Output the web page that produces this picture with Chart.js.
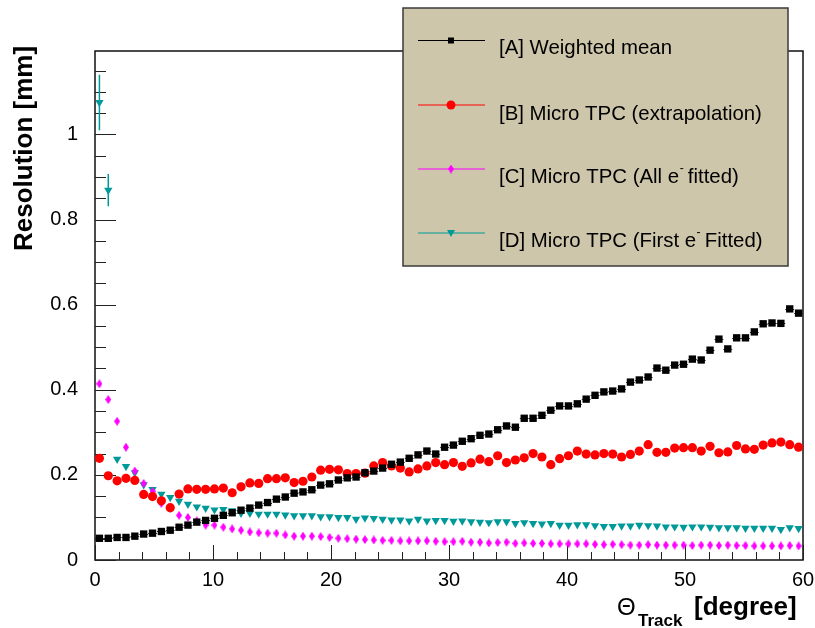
<!DOCTYPE html>
<html>
<head>
<meta charset="utf-8">
<script src="https://cdn.jsdelivr.net/npm/chart.js@4.4.1/dist/chart.umd.min.js"></script>
<style>
  html, body { margin: 0; padding: 0; background: #fff; }
</style>
</head>
<body>
<canvas id="c" width="815" height="628"></canvas>
<script>
// bin centres (deg), 80 bins of 0.75 deg
var thetaBins = [0.375, 1.125, 1.875, 2.625, 3.375, 4.125, 4.875, 5.625, 6.375, 7.125,
  7.875, 8.625, 9.375, 10.125, 10.875, 11.625, 12.375, 13.125, 13.875, 14.625,
  15.375, 16.125, 16.875, 17.625, 18.375, 19.125, 19.875, 20.625, 21.375, 22.125,
  22.875, 23.625, 24.375, 25.125, 25.875, 26.625, 27.375, 28.125, 28.875, 29.625,
  30.375, 31.125, 31.875, 32.625, 33.375, 34.125, 34.875, 35.625, 36.375, 37.125,
  37.875, 38.625, 39.375, 40.125, 40.875, 41.625, 42.375, 43.125, 43.875, 44.625,
  45.375, 46.125, 46.875, 47.625, 48.375, 49.125, 49.875, 50.625, 51.375, 52.125,
  52.875, 53.625, 54.375, 55.125, 55.875, 56.625, 57.375, 58.125, 58.875, 59.625];
var binHalfWidth = 0.375;

var weightedMean = [0.051, 0.051, 0.053, 0.053, 0.056, 0.061, 0.063, 0.067, 0.070, 0.077,
  0.082, 0.089, 0.093, 0.098, 0.105, 0.111, 0.117, 0.122, 0.129, 0.135,
  0.143, 0.148, 0.157, 0.160, 0.165, 0.176, 0.179, 0.188, 0.193, 0.195,
  0.205, 0.209, 0.216, 0.225, 0.230, 0.239, 0.247, 0.256, 0.249, 0.265,
  0.270, 0.279, 0.285, 0.293, 0.296, 0.306, 0.315, 0.312, 0.333, 0.333,
  0.340, 0.352, 0.362, 0.362, 0.367, 0.378, 0.387, 0.395, 0.397, 0.402,
  0.418, 0.423, 0.430, 0.451, 0.446, 0.458, 0.460, 0.472, 0.470, 0.493,
  0.519, 0.496, 0.522, 0.522, 0.536, 0.555, 0.557, 0.556, 0.590, 0.580];

var tpcExtrap = [0.239, 0.198, 0.186, 0.192, 0.187, 0.154, 0.149, 0.139, 0.123, 0.155,
  0.167, 0.166, 0.166, 0.167, 0.169, 0.158, 0.172, 0.181, 0.180, 0.191,
  0.191, 0.193, 0.182, 0.185, 0.195, 0.211, 0.213, 0.212, 0.203, 0.203,
  0.204, 0.221, 0.229, 0.221, 0.216, 0.207, 0.214, 0.221, 0.229, 0.224,
  0.229, 0.220, 0.228, 0.237, 0.231, 0.245, 0.229, 0.235, 0.240, 0.250,
  0.242, 0.224, 0.238, 0.245, 0.256, 0.249, 0.247, 0.250, 0.249, 0.242,
  0.248, 0.256, 0.271, 0.253, 0.253, 0.263, 0.264, 0.264, 0.256, 0.267,
  0.252, 0.254, 0.269, 0.261, 0.260, 0.270, 0.275, 0.277, 0.271, 0.265];

var tpcAllFit = [0.414, 0.377, 0.326, 0.265, 0.209, 0.180, 0.161, 0.133, 0.122, 0.105,
  0.100, 0.092, 0.082, 0.082, 0.077, 0.073, 0.070, 0.066, 0.064, 0.063,
  0.063, 0.059, 0.056, 0.056, 0.056, 0.055, 0.053, 0.051, 0.050, 0.049,
  0.048, 0.047, 0.046, 0.046, 0.045, 0.045, 0.045, 0.045, 0.044, 0.043,
  0.043, 0.044, 0.042, 0.042, 0.040, 0.041, 0.042, 0.039, 0.040, 0.039,
  0.039, 0.038, 0.038, 0.038, 0.038, 0.038, 0.037, 0.036, 0.037, 0.036,
  0.035, 0.035, 0.036, 0.035, 0.035, 0.035, 0.035, 0.034, 0.035, 0.035,
  0.034, 0.035, 0.034, 0.034, 0.033, 0.033, 0.033, 0.033, 0.034, 0.033];

var tpcFirstFit = [1.075, 0.869, 0.237, 0.220, 0.205, 0.177, 0.166, 0.155, 0.147, 0.138,
  0.131, 0.125, 0.122, 0.118, 0.119, 0.116, 0.110, 0.110, 0.108, 0.108,
  0.108, 0.106, 0.104, 0.104, 0.104, 0.102, 0.102, 0.100, 0.100, 0.096,
  0.099, 0.098, 0.096, 0.094, 0.094, 0.092, 0.096, 0.092, 0.093, 0.093,
  0.091, 0.092, 0.090, 0.089, 0.088, 0.090, 0.090, 0.086, 0.088, 0.086,
  0.085, 0.086, 0.082, 0.082, 0.083, 0.083, 0.081, 0.079, 0.079, 0.080,
  0.080, 0.082, 0.081, 0.080, 0.078, 0.078, 0.077, 0.078, 0.078, 0.077,
  0.076, 0.076, 0.076, 0.075, 0.075, 0.075, 0.075, 0.072, 0.076, 0.074];
// only the first two bins have visible y errors
var tpcFirstFitErr = [0.065, 0.038];

var seriesNames = ['[A] Weighted mean', '[B] Micro TPC (extrapolation)',
  '[C] Micro TPC (All e', '[D] Micro TPC (First e'];
var seriesTails = ['', '', ' fitted)', ' Fitted)'];
var seriesColors = ['#000000', '#ff0000', '#ff00ff', '#009999'];

var FONT = '"Liberation Sans", Arial, Helvetica, sans-serif';

function makeDiamond(w, h, color) {
  var c = document.createElement('canvas');
  c.width = w; c.height = h;
  var g = c.getContext('2d');
  g.fillStyle = color;
  g.beginPath();
  g.moveTo(w / 2, 0); g.lineTo(w, h / 2); g.lineTo(w / 2, h); g.lineTo(0, h / 2);
  g.closePath(); g.fill();
  return c;
}
var diamondImg = makeDiamond(6, 9, seriesColors[2]);

function pts(arr) {
  return thetaBins.map(function (x, i) { return { x: x, y: arr[i] }; });
}

var rootStyle = {
  id: 'rootStyle',
  beforeDatasetsDraw: function (chart) {
    var ctx = chart.ctx, a = chart.chartArea;
    var xs = chart.scales.x, ys = chart.scales.y;
    ctx.save();
    // frame
    ctx.strokeStyle = '#111';
    ctx.lineWidth = 1.5;
    ctx.strokeRect(a.left, a.top, a.right - a.left, a.bottom - a.top);
    // ticks inside frame
    ctx.lineWidth = 1;
    ctx.strokeStyle = '#222';
    ctx.beginPath();
    for (var k = 0; k <= 30; k++) {
      var px = Math.round(xs.getPixelForValue(k * 2)) + 0.5;
      var len = (k % 5 === 0) ? 15 : 8;
      ctx.moveTo(px, a.bottom); ctx.lineTo(px, a.bottom - len);
    }
    for (var j = 0; j * 0.05 <= ys.max; j++) {
      var py = Math.round(ys.getPixelForValue(j * 0.05)) + 0.5;
      var l2 = (j % 4 === 0) ? 21 : 11;
      ctx.moveTo(a.left, py); ctx.lineTo(a.left + l2, py);
    }
    ctx.stroke();
    // x error bars of weighted mean
    ctx.strokeStyle = '#333';
    ctx.beginPath();
    thetaBins.forEach(function (x, i) {
      var py = Math.round(ys.getPixelForValue(weightedMean[i])) + 0.5;
      ctx.moveTo(xs.getPixelForValue(x - binHalfWidth), py);
      ctx.lineTo(xs.getPixelForValue(x + binHalfWidth), py);
    });
    ctx.stroke();
    // y error bars of first-e fit
    ctx.strokeStyle = seriesColors[3];
    ctx.lineWidth = 1.5;
    ctx.beginPath();
    tpcFirstFitErr.forEach(function (e, i) {
      var px = xs.getPixelForValue(thetaBins[i]);
      ctx.moveTo(px, ys.getPixelForValue(tpcFirstFit[i] - e));
      ctx.lineTo(px, ys.getPixelForValue(tpcFirstFit[i] + e));
    });
    ctx.stroke();
    ctx.restore();
  },
  afterDraw: function (chart) {
    var ctx = chart.ctx;
    ctx.save();
    // axis titles
    ctx.fillStyle = '#000';
    ctx.textAlign = 'left';
    ctx.textBaseline = 'alphabetic';
    ctx.save();
    ctx.translate(32, 251);
    ctx.rotate(-Math.PI / 2);
    ctx.font = 'bold 26px ' + FONT;
    ctx.fillText('Resolution [mm]', 0, 0);
    ctx.restore();
    ctx.font = '24px ' + FONT;
    ctx.fillText('\u0398', 617, 615);
    ctx.font = 'bold 17px ' + FONT;
    ctx.fillText('Track', 638, 626);
    ctx.font = 'bold 26px ' + FONT;
    ctx.fillText('[degree]', 694, 615);

    // legend box
    var bx = 403, by = 8, bw = 385, bh = 258;
    ctx.fillStyle = '#cdc6ab';
    ctx.fillRect(bx, by, bw, bh);
    ctx.strokeStyle = '#3a3a3a';
    ctx.lineWidth = 1.5;
    ctx.strokeRect(bx, by, bw, bh);

    var lineY = [40.5, 105, 169, 233];
    var textY = [53.5, 120, 183, 247];
    var legFont = '20.4px ' + FONT;
    for (var i = 0; i < 4; i++) {
      var col = seriesColors[i];
      ctx.strokeStyle = col;
      ctx.lineWidth = i === 0 ? 1 : 1.2;
      ctx.beginPath();
      ctx.moveTo(418, lineY[i]); ctx.lineTo(485, lineY[i]);
      ctx.stroke();
      ctx.fillStyle = col;
      var mx = 451, my = lineY[i];
      if (i === 0) {
        ctx.fillRect(mx - 3, my - 3, 6, 6);
      } else if (i === 1) {
        ctx.beginPath(); ctx.arc(mx, my, 4.5, 0, Math.PI * 2); ctx.fill();
      } else if (i === 2) {
        ctx.drawImage(diamondImg, mx - 3, my - 4.5);
      } else {
        ctx.beginPath();
        ctx.moveTo(mx - 4, my - 3); ctx.lineTo(mx + 4, my - 3); ctx.lineTo(mx, my + 4);
        ctx.closePath(); ctx.fill();
      }
      ctx.fillStyle = '#000';
      ctx.font = legFont;
      var tx = 499;
      ctx.fillText(seriesNames[i], tx, textY[i]);
      if (seriesTails[i]) {
        var w = ctx.measureText(seriesNames[i]).width;
        ctx.font = '12px ' + FONT;
        ctx.fillText('-', tx + w + 0.5, textY[i] - 11);
        var w2 = ctx.measureText('-').width;
        ctx.font = legFont;
        ctx.fillText(seriesTails[i], tx + w + w2 - 1, textY[i]);
      }
    }
    ctx.restore();
  }
};

new Chart(document.getElementById('c'), {
  type: 'scatter',
  data: {
    datasets: [
      { label: seriesNames[0], data: pts(weightedMean), pointStyle: 'rect', pointRadius: 5.2,
        backgroundColor: seriesColors[0], borderColor: seriesColors[0], borderWidth: 0 },
      { label: seriesNames[1], data: pts(tpcExtrap), pointStyle: 'circle', pointRadius: 4.6,
        backgroundColor: seriesColors[1], borderColor: seriesColors[1], borderWidth: 0 },
      { label: seriesNames[2], data: pts(tpcAllFit), pointStyle: diamondImg, pointRadius: 4,
        backgroundColor: seriesColors[2], borderColor: seriesColors[2], borderWidth: 0 },
      { label: seriesNames[3], data: pts(tpcFirstFit), pointStyle: 'triangle', pointRotation: 180,
        pointRadius: 4.8, backgroundColor: seriesColors[3], borderColor: seriesColors[3], borderWidth: 0 }
    ]
  },
  options: {
    responsive: false,
    animation: false,
    devicePixelRatio: 1,
    layout: { padding: { left: 0, top: 51, right: 12, bottom: 0 } },
    plugins: { legend: { display: false }, tooltip: { enabled: false } },
    elements: { point: { hoverRadius: 5 } },
    scales: {
      x: {
        type: 'linear', min: 0, max: 60,
        grid: { display: false }, border: { display: false },
        ticks: { stepSize: 10, padding: 0, color: '#000', maxRotation: 0,
          font: { family: FONT, size: 20 } },
        afterFit: function (s) { s.height = 68; }
      },
      y: {
        type: 'linear', min: 0, max: 1.196,
        grid: { display: false }, border: { display: false },
        ticks: { stepSize: 0.2, includeBounds: false, padding: 9, color: '#000',
          font: { family: FONT, size: 20 },
          callback: function (v) { return String(+v.toFixed(2)); } },
        afterFit: function (s) { s.width = 95; }
      }
    }
  },
  plugins: [rootStyle]
});
</script>
</body>
</html>
